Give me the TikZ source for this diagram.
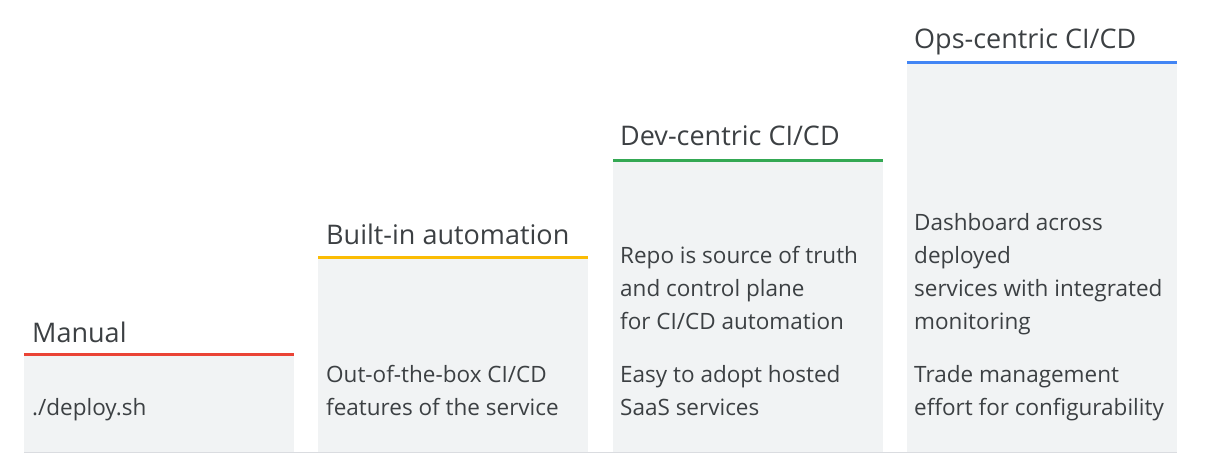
\documentclass[tikz,border=0pt]{standalone}
\usepackage{fontspec}
\setmainfont{Open Sans}
\definecolor{txt}{HTML}{3C4043}
\definecolor{boxgray}{HTML}{F1F3F4}
\definecolor{rulegray}{HTML}{DADCE0}
\definecolor{gred}{HTML}{EA4335}
\definecolor{gyellow}{HTML}{FBBC04}
\definecolor{ggreen}{HTML}{34A853}
\definecolor{gblue}{HTML}{4285F4}
\tikzset{
  colbox/.style={fill=boxgray, draw=none},
  toprule/.style={line width=3pt},
  title/.style={anchor=base west, inner sep=0pt, text=txt, font=\fontsize{27}{30}\selectfont},
  body/.style={anchor=base west, inner sep=0pt, text=txt, align=left, font=\fontsize{22.5}{33}\selectfont},
}
\begin{document}
\begin{tikzpicture}[x=1pt, y=-1pt]
\useasboundingbox (0,0) rectangle (1205,473);
% boxes
\fill[colbox] (24,354) rectangle (294,452);
\fill[colbox] (318,258) rectangle (588,452);
\fill[colbox] (613,161) rectangle (883,452);
\fill[colbox] (907,63) rectangle (1177,452);
% baseline
\coordinate (bl) at (24,452.5);
\coordinate (br) at (1177,452.5);
\draw[rulegray, line width=1.5pt] (bl) -- (br);
% top rules
\draw[toprule, gred] (24,354) -- (294,354);
\draw[toprule, gyellow] (318,258) -- (588,258);
\draw[toprule, ggreen] (613,161) -- (883,161);
\draw[toprule, gblue] (907,63) -- (1177,63);
% titles
\node[title] (t1) at (32,342) {Manual};
\node[title] (t2) at (326,244) {Built-in automation};
\node[title] (t3) at (620,146) {Dev-centric CI/CD};
\node[title] (t4) at (914,49) {Ops-centric CI/CD};
% bodies (anchor = baseline of last line)
\node[body] (b1) at (32,415) {./deploy.sh};
\node[body] (b2) at (326,415) {Out-of-the-box CI/CD\\features of the service};
\node[body] (b3a) at (620,329) {Repo is source of truth\\and control plane\\for CI/CD automation};
\node[body] (b3b) at (620,415) {Easy to adopt hosted\\SaaS services};
\node[body] (b4a) at (914,329) {Dashboard across\\deployed\\services with integrated\\monitoring};
\node[body] (b4b) at (914,415) {Trade management\\effort for configurability};
\end{tikzpicture}
\end{document}
